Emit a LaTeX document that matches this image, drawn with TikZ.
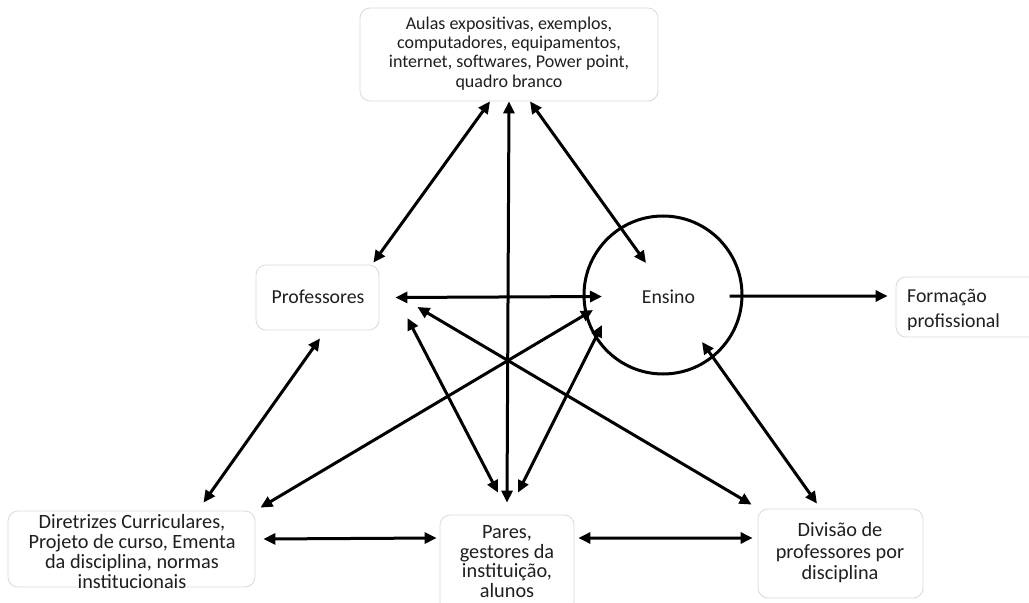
\documentclass[tikz,border=0pt]{standalone}
\usepackage{fontspec}
\setmainfont{Carlito}
\usetikzlibrary{arrows.meta,calc}
\definecolor{boxline}{HTML}{D9D9D9}
\definecolor{ink}{HTML}{000000}
\definecolor{txt}{HTML}{1F1F1F}
\tikzset{
  softbox/.style={draw=boxline, line width=0.8bp, rounded corners=10bp, fill=white, inner sep=0pt},
  lbl/.style={text=txt, inner sep=0pt, align=center},
  arr/.style={draw=ink, line width=3bp, -{Triangle[length=12bp,width=11bp]}},
  darr/.style={draw=ink, line width=3bp, {Triangle[length=12bp,width=11bp]}-{Triangle[length=12bp,width=11bp]}},
}
\begin{document}
\begin{tikzpicture}[x=1bp,y=-1bp]
\useasboundingbox (0,0) rectangle (1029,603);
% boxes
\node[softbox, minimum width=298bp, minimum height=93bp] (top) at (509,54.5) {};
\node[softbox, minimum width=123bp, minimum height=65bp] (prof) at (317.5,297.5) {};
\node[draw=ink, line width=3bp, circle, minimum size=158bp, inner sep=0pt] (ens) at (663,295) {};
\node[softbox, minimum width=150bp, minimum height=60bp] (form) at (971,307) {};
\node[softbox, minimum width=247bp, minimum height=76bp] (dirbox) at (131.5,549) {};
\node[softbox, minimum width=134bp, minimum height=97bp] (parbox) at (507,563.5) {};
\node[softbox, minimum width=165bp, minimum height=89bp] (divbox) at (840.5,553.5) {};
% texts
\node[lbl, font=\fontsize{18bp}{19.3bp}\selectfont] (toptxt) at (509,53.5)
  {Aulas expositivas, exemplos,\\computadores, equipamentos,\\internet, softwares, Power point,\\quadro branco};
\node[lbl, font=\fontsize{19.8bp}{22bp}\selectfont] (proftxt) at (318,297) {Professores};
\node[lbl, font=\fontsize{19.8bp}{22bp}\selectfont] (enstxt) at (668.5,297) {Ensino};
\node[lbl, align=left, anchor=west, font=\fontsize{19.8bp}{25bp}\selectfont] (formtxt) at (907,309.5) {Formação\\profissional};
\node[lbl, font=\fontsize{20.3bp}{20bp}\selectfont] (dirtxt) at (132,551.5)
  {Diretrizes Curriculares,\\Projeto de curso, Ementa\\da disciplina, normas\\institucionais};
\node[lbl, font=\fontsize{20.3bp}{19.5bp}\selectfont] (partxt) at (507,561.5)
  {Pares,\\gestores da\\instituição,\\alunos};
\node[lbl, font=\fontsize{20.3bp}{21.5bp}\selectfont] (divtxt) at (840,553)
  {Divisão de\\professores por\\disciplina};
% connectors
\draw[darr] ([xshift=-19bp]top.south) -- ([shift={(-6bp,2bp)}]prof.north east);
\draw[darr] (top.south) -- ([yshift=12bp]parbox.north);
\draw[darr] ([xshift=21bp]top.south) -- ([shift={(-17bp,32bp)}]ens.center);
\draw[darr] ([xshift=16bp]prof.east) -- ([shift={(-61bp,-1.5bp)}]ens.center);
\draw[arr] ([xshift=-14bp,yshift=-1bp]ens.east) -- ([shift={(-8bp,11bp)}]form.west);
\draw[darr] ([shift={(2.5bp,-8bp)}]prof.south) -- ([shift={(72bp,8bp)}]dirbox.north);
\draw[darr] ([shift={(5bp,3bp)}]dirbox.north east) -- ([shift={(-70bp,-15bp)}]ens.center);
\draw[darr] ([shift={(38bp,-9.5bp)}]prof.east) -- ([shift={(-6bp,4bp)}]divbox.north west);
\draw[darr] ([shift={(28bp,-20.5bp)}]prof.east) -- ([shift={(-9bp,22bp)}]parbox.north);
\draw[darr] ([shift={(11bp,22bp)}]parbox.north) -- ([shift={(-61bp,-30bp)}]ens.center);
\draw[darr] ([shift={(39bp,-47bp)}]ens.center) -- ([shift={(-23.5bp,5bp)}]divbox.north);
\draw[darr] ([shift={(8bp,10bp)}]dirbox.east) -- ([shift={(-3bp,25.5bp)}]parbox.west);
\draw[darr] ([shift={(4bp,25.5bp)}]parbox.east) -- ([shift={(-5bp,15.5bp)}]divbox.west);
\end{tikzpicture}
\end{document}
